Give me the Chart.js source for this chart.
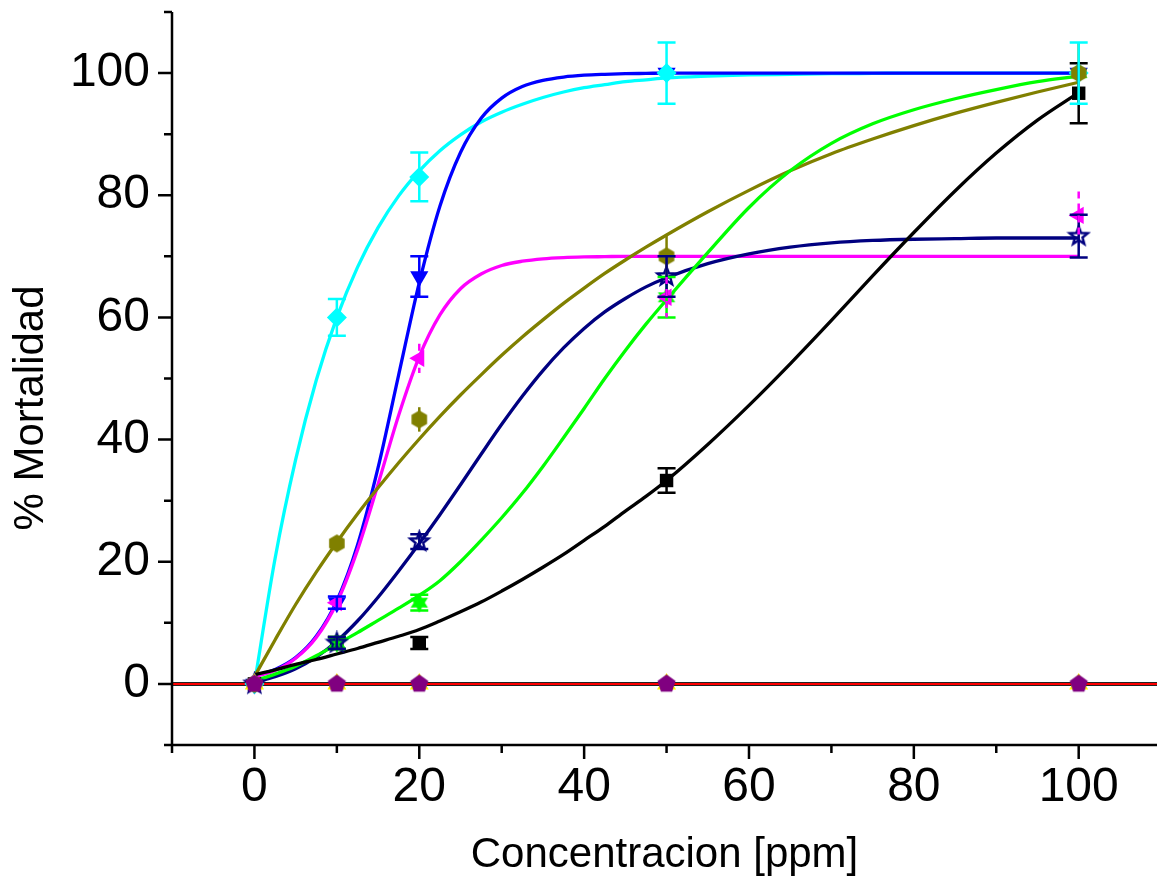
<!DOCTYPE html>
<html>
<head>
<meta charset="utf-8">
<script src="https://cdn.jsdelivr.net/npm/chart.js@4.4.1/dist/chart.umd.min.js"></script>
<style>
  html, body { margin: 0; padding: 0; background: #fff; }
  #wrap { width: 1157px; height: 886px; }
</style>
</head>
<body>
<div id="wrap"><canvas id="mortality-chart" width="1157" height="886"></canvas></div>
<script>
// measured points (ppm vs % mortality)
const concentrations = [0, 10, 20, 50, 100];
const blackVals   = [0, 6.7, 6.7, 33.3, 96.7];
const blackErr    = [0, 1, 1, 2, 4.9];
const cyanVals    = [0, 60, 83, 100, 100];
const cyanErr     = [0, 3, 4, 5, 5];
const blueVals    = [0, 13.3, 66.7, 100, 100];
const blueErr     = [0, 1, 3.3, 0, 0];
const magentaVals = [0, 13.3, 53.3, 63.3, 76.7];
const magentaErr  = [0, 1, 2.4, 3.3, 3.9];
const oliveVals   = [0, 23, 43.3, 70, 100];
const oliveErr    = [0, 0, 2, 3.4, 5];
const navyVals    = [0, 6.7, 23.3, 66.7, 73.3];
const navyErr     = [0, 1, 1.2, 3.3, 3.5];
const greenVals   = [0, 6.7, 13.3, 63.3, 100];
const greenErr    = [0, 1, 1.3, 3.3, 0];
const zeroVals    = [0, 0, 0, 0, 0];

// fitted curves
const curveX = [0, 2.5, 5, 7.5, 10, 12.5, 15, 17.5, 20, 22.5, 25, 27.5, 30, 32.5, 35, 37.5, 40, 42.5, 45, 47.5, 50,
                55, 60, 65, 70, 75, 80, 85, 90, 95, 100];
const cyanFit    = [0, 20.5, 36.7, 49.7, 60, 68.2, 74.7, 79.9, 84, 87.3, 89.9, 92, 93.6, 94.9, 96, 96.9, 97.6, 98.1, 98.6, 98.9, 99.2,
                    99.5, 99.7, 99.8, 99.9, 99.95, 100, 100, 100, 100, 100];
const blueFit    = [1.3, 2.35, 4.3, 7.8, 13.6, 22.7, 35.4, 50.6, 65.7, 78.2, 87, 92.6, 95.9, 97.8, 98.8, 99.35, 99.65, 99.8, 99.9, 99.95, 100,
                    100, 100, 100, 100, 100, 100, 100, 100, 100, 100];
const magentaFit = [1.16, 2.2, 4.2, 7.6, 13.3, 21.9, 32.7, 44, 53.6, 60.4, 64.7, 67.1, 68.5, 69.2, 69.6, 69.8, 69.9, 69.95, 70, 70, 70,
                    70, 70, 70, 70, 70, 70, 70, 70, 70, 70];
const oliveFit   = [1.2, 7.2, 13, 18.3, 23.2, 27.8, 32.1, 36.2, 40.1, 43.8, 47.3, 50.6, 53.8, 56.8, 59.6, 62.3, 64.8, 67.2, 69.4, 71.5, 73.5,
                    77.3, 80.8, 84, 86.8, 89.2, 91.4, 93.4, 95.2, 96.9, 98.5];
const navyFit    = [0.3, 1.2, 2.5, 4.4, 7, 10.3, 14.2, 18.5, 23, 27.7, 32.6, 37.6, 42.5, 47.1, 51.3, 55, 58.2, 60.9, 63.1, 65, 66.5,
                    68.8, 70.4, 71.5, 72.2, 72.6, 72.8, 72.9, 73, 73, 73];
const greenFit   = [0.5, 1.6, 2.9, 4.6, 6.5, 8.4, 10.4, 12.4, 14.5, 16.9, 20, 23.5, 27.2, 31.2, 35.6, 40.3, 45.1, 50, 54.6, 58.9, 62.9,
                    70.6, 78, 84, 88.5, 91.7, 94, 95.8, 97.3, 98.6, 99.5];
const blackFit   = [1.5, 2.3, 3.2, 4, 4.9, 5.8, 6.8, 7.8, 8.9, 10.3, 11.8, 13.4, 15.2, 17.1, 19.1, 21.2, 23.5, 25.8, 28.3, 30.7, 33.3,
                    39.2, 45.6, 52.4, 59.5, 66.8, 73.9, 80.7, 86.9, 92.3, 96.8];
const zeroLineX  = [-10, 110];
const zeroLineY  = [0, 0];

const xTickLabels = [0, 20, 40, 60, 80, 100];
const yTickLabels = [0, 20, 40, 60, 80, 100];
const xMinorTicks = [-10, 10, 30, 50, 70, 90];
const yMinorTicks = [-10, 10, 30, 50, 70, 90, 110];

const FONT = "Arial, 'Liberation Sans', sans-serif";

const pts = (xs, ys) => xs.map((v, i) => ({x: v, y: ys[i]}));

// little canvases for the symbols Chart.js doesn't have
function polyMarker(n, r, color, inner, hollow) {
  const size = Math.ceil(r * 2 + 6);
  const c = document.createElement('canvas');
  c.width = size; c.height = size;
  const g = c.getContext('2d');
  g.translate(size / 2, size / 2);
  const steps = inner ? n * 2 : n;
  g.beginPath();
  for (let i = 0; i < steps; i++) {
    const rr = inner && i % 2 ? r * inner : r;
    const a = -Math.PI / 2 + i * 2 * Math.PI / steps;
    if (i === 0) g.moveTo(rr * Math.cos(a), rr * Math.sin(a));
    else g.lineTo(rr * Math.cos(a), rr * Math.sin(a));
  }
  g.closePath();
  if (hollow) { g.strokeStyle = color; g.lineWidth = 2.4; g.stroke(); }
  else { g.fillStyle = color; g.fill(); }
  return c;
}

const hexOlive   = polyMarker(6, 9, '#808000');
const pentPurple = polyMarker(5, 9.5, '#800080');
const starNavy   = polyMarker(5, 9.5, '#000080', 0.42, true);
const starGreen  = polyMarker(6, 10, '#00ff00', 0.55);

function markerSet(label, vals, errs, color, style, radius, extra) {
  return Object.assign({
    label: label,
    data: pts(concentrations, vals),
    errors: errs,
    showLine: false,
    pointStyle: style,
    pointRadius: radius,
    pointBackgroundColor: color,
    pointBorderColor: color,
    pointBorderWidth: 0,
    borderColor: color,
    order: 1
  }, extra || {});
}

function curveSet(label, ys, color) {
  return {
    label: label,
    data: pts(curveX, ys),
    showLine: true,
    borderColor: color,
    borderWidth: 3.3,
    pointRadius: 0,
    cubicInterpolationMode: 'monotone',
    order: 3
  };
}

const errorBarPlugin = {
  id: 'errorBars',
  afterDatasetsDraw(chart) {
    const {ctx, scales: {x, y}} = chart;
    chart.data.datasets.forEach(ds => {
      if (!ds.errors) return;
      ctx.save();
      ctx.strokeStyle = ds.borderColor;
      ctx.lineWidth = 2.5;
      if (ds.errorDash) ctx.setLineDash(ds.errorDash);
      ds.data.forEach((p, i) => {
        const e = ds.errors[i];
        if (!e) return;
        const px = x.getPixelForValue(p.x);
        const top = y.getPixelForValue(p.y + e);
        const bot = y.getPixelForValue(p.y - e);
        ctx.beginPath();
        ctx.moveTo(px, top);
        ctx.lineTo(px, bot);
        if (!ds.noCaps) {
          ctx.moveTo(px - 9, top); ctx.lineTo(px + 9, top);
          ctx.moveTo(px - 9, bot); ctx.lineTo(px + 9, bot);
        }
        ctx.stroke();
      });
      ctx.restore();
    });
  }
};

const axesPlugin = {
  id: 'originAxes',
  afterDraw(chart) {
    const {ctx, chartArea: a, scales: {x, y}} = chart;
    ctx.save();
    ctx.strokeStyle = '#000';
    ctx.lineWidth = 2.5;
    ctx.beginPath();
    ctx.moveTo(a.left, a.top);
    ctx.lineTo(a.left, a.bottom);
    ctx.lineTo(a.right, a.bottom);
    xTickLabels.forEach(v => { const px = x.getPixelForValue(v); ctx.moveTo(px, a.bottom); ctx.lineTo(px, a.bottom + 14); });
    xMinorTicks.forEach(v => { const px = x.getPixelForValue(v); ctx.moveTo(px, a.bottom); ctx.lineTo(px, a.bottom + 8); });
    yTickLabels.forEach(v => { const py = y.getPixelForValue(v); ctx.moveTo(a.left, py); ctx.lineTo(a.left - 14, py); });
    yMinorTicks.forEach(v => { const py = y.getPixelForValue(v); ctx.moveTo(a.left, py); ctx.lineTo(a.left - 8, py); });
    ctx.stroke();

    // y axis title
    ctx.translate(31, 408);
    ctx.rotate(-Math.PI / 2);
    ctx.fillStyle = '#000';
    ctx.font = '42px ' + FONT;
    ctx.textAlign = 'center';
    ctx.textBaseline = 'middle';
    ctx.fillText('% Mortalidad', 0, 0);
    ctx.restore();
  }
};

new Chart(document.getElementById('mortality-chart'), {
  type: 'scatter',
  data: {
    datasets: [
      curveSet('Fit black', blackFit, '#000000'),
      curveSet('Fit green', greenFit, '#00ff00'),
      curveSet('Fit navy', navyFit, '#000080'),
      curveSet('Fit olive', oliveFit, '#808000'),
      curveSet('Fit magenta', magentaFit, '#ff00ff'),
      curveSet('Fit blue', blueFit, '#0000ff'),
      curveSet('Fit cyan', cyanFit, '#00ffff'),
      { label: 'Fit zero a', data: pts(zeroLineX, zeroLineY), showLine: true, borderColor: '#222222', borderWidth: 4, pointRadius: 0, order: 2.5 },
      { label: 'Fit zero b', data: pts(zeroLineX, zeroLineY), showLine: true, borderColor: '#ff0000', borderWidth: 2, pointRadius: 0, order: 2 },
      markerSet('Olive', oliveVals, oliveErr, '#808000', hexOlive, 9, {noCaps: true, order: 0.8}),
      markerSet('Black', blackVals, blackErr, '#000000', 'rect', 9.5, {order: 1.6}),
      markerSet('Green', greenVals, greenErr, '#00ff00', starGreen, 10, {order: 1.5}),
      markerSet('Navy', navyVals, navyErr, '#000080', starNavy, 10, {order: 1.2}),
      markerSet('Magenta', magentaVals, magentaErr, '#ff00ff', 'triangle', 10, {rotation: -90, noCaps: true, errorDash: [7, 5], order: 1.3}),
      markerSet('Blue', blueVals, blueErr, '#0000ff', 'triangle', 10.5, {rotation: 180, order: 1.4}),
      markerSet('Cyan', cyanVals, cyanErr, '#00ffff', 'rectRot', 10, {order: 1.1}),
      markerSet('Yellow', zeroVals, null, '#ffff00', 'triangle', 11, {order: 0.5}),
      markerSet('Purple', zeroVals, null, '#800080', pentPurple, 9.5, {order: 0.2})
    ]
  },
  options: {
    responsive: false,
    animation: false,
    layout: { autoPadding: false, padding: { top: 12, right: 0, left: 0, bottom: 0 } },
    plugins: { legend: { display: false }, tooltip: { enabled: false } },
    scales: {
      x: {
        type: 'linear',
        min: -10,
        max: 109.5,
        grid: { display: false, drawTicks: false },
        border: { display: false },
        afterBuildTicks: s => { s.ticks = xTickLabels.map(v => ({value: v})); },
        afterFit: s => { s.height = 141; s.paddingLeft = 0; s.paddingRight = 0; },
        ticks: { color: '#000', padding: 14, font: { family: FONT, size: 48 } },
        title: { display: true, text: 'Concentracion [ppm]', color: '#000', padding: { bottom: 5 }, font: { family: FONT, size: 42 } }
      },
      y: {
        type: 'linear',
        min: -10,
        max: 110,
        grid: { display: false, drawTicks: false },
        border: { display: false },
        afterBuildTicks: s => { s.ticks = yTickLabels.map(v => ({value: v})); },
        afterFit: s => { s.width = 172; s.paddingTop = 0; s.paddingBottom = 0; },
        ticks: { color: '#000', padding: 22, font: { family: FONT, size: 48 } }
      }
    }
  },
  plugins: [errorBarPlugin, axesPlugin]
});
</script>
</body>
</html>
